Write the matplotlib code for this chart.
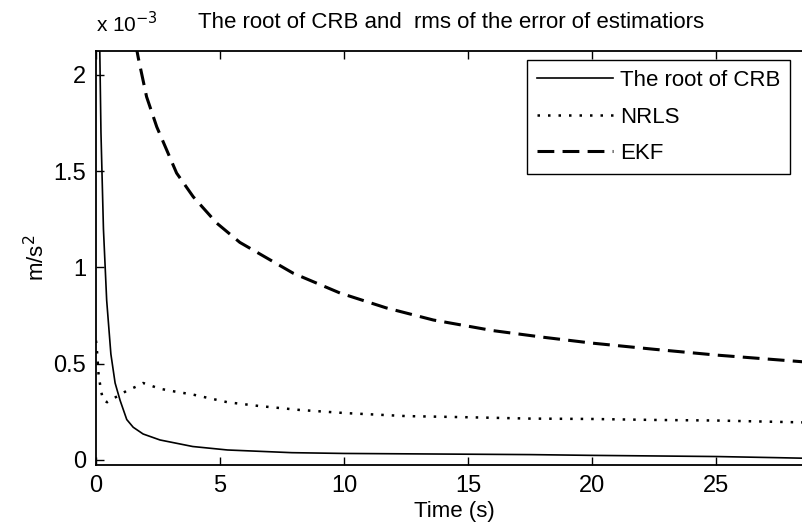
import matplotlib
matplotlib.use("Agg")
import matplotlib.pyplot as plt

plt.rcParams['font.family'] = ['Liberation Sans', 'DejaVu Sans']

# values in units of 1e-3 m/s^2
t_crb = [0, 0.05, 0.1, 0.2, 0.3, 0.43, 0.6, 0.77, 0.97, 1.24, 1.5, 1.9, 2.58, 3.9, 5.3, 7.9,
         10, 12.5, 15, 17.5, 20, 22.5, 25, 27.5, 29]
crb = [6.0, 3.5, 2.6, 1.7, 1.2, 0.83, 0.55, 0.40, 0.31, 0.21, 0.17, 0.135, 0.104, 0.07, 0.052, 0.038,
       0.034, 0.032, 0.030, 0.028, 0.024, 0.021, 0.018, 0.012, 0.008]

t_nrls = [0, 0.05, 0.1, 0.2, 0.29, 0.45, 0.7, 1.0, 1.24, 1.6, 1.9, 2.58, 3.2, 3.9, 5.3, 6.6, 8.2,
          10, 12.5, 15, 17.5, 20, 22.5, 25, 27.5, 29]
nrls = [0.62, 0.55, 0.45, 0.36, 0.31, 0.30, 0.32, 0.34, 0.36, 0.38, 0.40, 0.37, 0.355, 0.34, 0.30,
        0.28, 0.26, 0.244, 0.228, 0.222, 0.215, 0.213, 0.208, 0.205, 0.198, 0.194]

t_ekf = [1.6, 1.71, 2.04, 2.45, 2.85, 3.25, 3.92, 4.87, 5.8, 7.95, 9.84, 11.7, 13.6, 16, 18, 20,
         22.5, 25, 27.5, 29]
ekf = [2.16, 2.085, 1.886, 1.73, 1.61, 1.49, 1.367, 1.23, 1.13, 0.97, 0.867, 0.79, 0.727, 0.672,
       0.638, 0.607, 0.575, 0.545, 0.52, 0.505]

x_ticks = [0, 5, 10, 15, 20, 25]
y_ticks = [0, 0.5, 1, 1.5, 2]
y_tick_labels = ['0', '0.5', '1', '1.5', '2']

fig = plt.figure(figsize=(8.02, 5.28), dpi=100)
ax = fig.add_axes([96 / 802, 63 / 528, 716 / 802, 414 / 528])

ax.plot(t_crb, crb, color='black', lw=1.2, ls='-', label='The root of CRB')
ax.plot(t_nrls, nrls, color='black', lw=1.8, ls=(0, (1, 3.2)), label='NRLS')
ax.plot(t_ekf, ekf, color='black', lw=2.2, ls=(0, (5.5, 2.7)), label='EKF')

ax.set_xlim(0, 28.87)
ax.set_ylim(-0.026, 2.124)
ax.set_xticks(x_ticks)
ax.set_yticks(y_ticks)
ax.set_yticklabels(y_tick_labels)
ax.tick_params(direction='in', top=True, right=True, labelsize=17, length=6, width=1, pad=7)
for s in ax.spines.values():
    s.set_linewidth(1.3)

ax.set_xlabel('Time (s)', fontsize=16, labelpad=3)
ax.set_ylabel('m/s$^2$', fontsize=16, labelpad=3)
ax.text(0, 1.035, 'x 10$^{-3}$', transform=ax.transAxes, fontsize=15, ha='left', va='bottom')
fig.text(451 / 802, 1 - 22 / 528, 'The root of CRB and  rms of the error of estimatiors',
         fontsize=16, ha='center', va='center')

leg = ax.legend(loc='upper right', bbox_to_anchor=(694 / 716, 0.978), fontsize=16,
                handlelength=3.4, handletextpad=0.3, borderaxespad=0, borderpad=0.45,
                fancybox=False, framealpha=1, edgecolor='black', labelspacing=0.7)
leg.get_frame().set_linewidth(1.0)

fig.savefig('out.png', dpi=100)
